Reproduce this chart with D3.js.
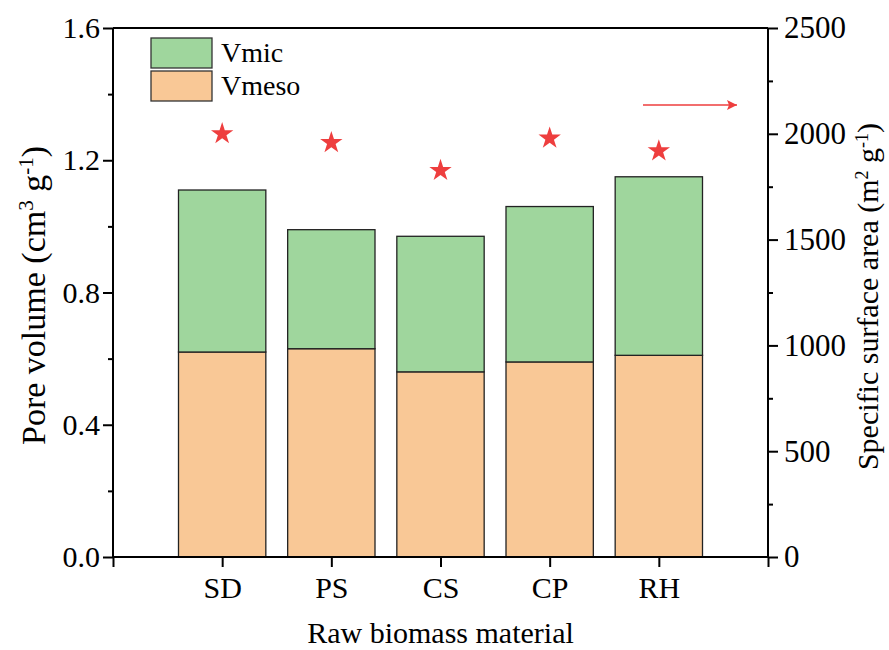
<!DOCTYPE html>
<html>
<head>
<meta charset="utf-8">
<script src="https://cdn.jsdelivr.net/npm/d3@7"></script>
<style>
  body { margin: 0; background: #fff; }
  svg { display: block; }
</style>
</head>
<body>
<svg id="chart" width="889" height="650" style="font-family: 'Liberation Serif', serif;"></svg>
<script>
// ---- data ----
const categories = ["SD", "PS", "CS", "CP", "RH"];
const vmeso = [0.62, 0.63, 0.56, 0.59, 0.61];
const vmic  = [0.49, 0.36, 0.41, 0.47, 0.54];
const ssa   = [2000, 1958, 1826, 1979, 1919];
const leftTicks  = [0.0, 0.4, 0.8, 1.2, 1.6];
const rightTicks = [0, 500, 1000, 1500, 2000, 2500];
const seriesNames = ["Vmic", "Vmeso"];

// ---- layout ----
const W = 889, H = 650;
const m = { left: 113, right: 121, top: 28, bottom: 93 };
const x0 = m.left, x1 = W - m.right, y0 = H - m.bottom, y1 = m.top;
const FONT = "'Liberation Serif', 'Times New Roman', serif";

const svg = d3.select("#chart");

const x = d3.scaleLinear().domain([0, categories.length + 1]).range([x0, x1]);
const yL = d3.scaleLinear().domain([0, 1.6]).range([y0, y1]);
const yR = d3.scaleLinear().domain([0, 2500]).range([y0, y1]);

const colMic = "#9fd69d", colMeso = "#f9c896", colStar = "#ee3e3e";
const barW = 0.8 * (x(1) - x(0));

// bars
const g = svg.append("g");
categories.forEach((c, i) => {
  const cx = x(i + 1);
  g.append("rect")
    .attr("x", cx - barW / 2).attr("width", barW)
    .attr("y", yL(vmeso[i])).attr("height", yL(0) - yL(vmeso[i]))
    .attr("fill", colMeso).attr("stroke", "#222").attr("stroke-width", 1.3);
  g.append("rect")
    .attr("x", cx - barW / 2).attr("width", barW)
    .attr("y", yL(vmeso[i] + vmic[i])).attr("height", yL(vmeso[i]) - yL(vmeso[i] + vmic[i]))
    .attr("fill", colMic).attr("stroke", "#222").attr("stroke-width", 1.3);
});

// stars
const star = d3.symbol().type(d3.symbolStar).size(155);
svg.append("g").selectAll("path").data(ssa).join("path")
  .attr("d", star)
  .attr("transform", (d, i) => `translate(${x(i + 1)},${yR(d)})`)
  .attr("fill", colStar);

// axes
const fs = 30;
const axL = svg.append("g").attr("transform", `translate(${x0},0)`)
  .call(d3.axisLeft(yL).tickValues(leftTicks).tickFormat(d3.format(".1f")).tickSize(10).tickPadding(3));
const axLm = svg.append("g").attr("transform", `translate(${x0},0)`)
  .call(d3.axisLeft(yL).tickValues([0.2, 0.6, 1.0, 1.4]).tickFormat("").tickSize(5));
const axR = svg.append("g").attr("transform", `translate(${x1},0)`)
  .call(d3.axisRight(yR).tickValues(rightTicks).tickFormat(d3.format("d")).tickSize(10).tickPadding(6));
const axRm = svg.append("g").attr("transform", `translate(${x1},0)`)
  .call(d3.axisRight(yR).tickValues([250, 750, 1250, 1750, 2250]).tickFormat("").tickSize(5));
const axB = svg.append("g").attr("transform", `translate(0,${y0})`)
  .call(d3.axisBottom(x).tickValues(d3.range(0, categories.length + 2))
    .tickFormat(d => (d >= 1 && d <= categories.length) ? categories[d - 1] : "")
    .tickSize(10).tickPadding(10));
// top frame
svg.append("line").attr("x1", x0).attr("x2", x1).attr("y1", y1).attr("y2", y1)
  .attr("stroke", "#000").attr("stroke-width", 2);

[axL, axLm, axR, axRm, axB].forEach(a => {
  a.attr("font-family", FONT).attr("font-size", fs);
  a.selectAll("path.domain").attr("stroke", "#000").attr("stroke-width", 2);
  a.selectAll(".tick line").attr("stroke", "#000").attr("stroke-width", 2);
  a.selectAll("text").attr("fill", "#000");
});
axR.attr("font-size", 31);
axLm.select("path.domain").remove();
axRm.select("path.domain").remove();
axL.select("path.domain").attr("d", `M0,${y0}V${y1}`);
axR.select("path.domain").attr("d", `M0,${y0}V${y1}`);
axB.select("path.domain").attr("d", `M${x0},0H${x1}`);

// axis titles
function title(sel, parts, supSize) {
  parts.forEach(p => {
    const t = sel.append("tspan").text(p[0]);
    if (p[1]) t.attr("baseline-shift", "super").attr("font-size", supSize);
  });
}
const tL = svg.append("text")
  .attr("transform", `translate(45,${(y0 + y1) / 2 + 3}) rotate(-90)`)
  .attr("text-anchor", "middle").attr("font-family", FONT).attr("font-size", 34);
title(tL, [["Pore volume (cm"], ["3", 1], [" g"], ["-1", 1], [")"]], 21);

const tR = svg.append("text")
  .attr("transform", `translate(878,${(y0 + y1) / 2 + 4}) rotate(-90)`)
  .attr("text-anchor", "middle").attr("font-family", FONT).attr("font-size", fs);
title(tR, [["Specific surface area (m"], ["2", 1], [" g"], ["-1", 1], [")"]], 18);

svg.append("text").attr("x", (x0 + x1) / 2).attr("y", 643)
  .attr("text-anchor", "middle").attr("font-family", FONT).attr("font-size", fs)
  .text("Raw biomass material");

// legend
const lg = svg.append("g");
[colMic, colMeso].forEach((c, i) => {
  lg.append("rect").attr("x", 151).attr("y", 38 + i * 33).attr("width", 61).attr("height", 30)
    .attr("fill", c).attr("stroke", "#333").attr("stroke-width", 1.3);
  lg.append("text").attr("x", 221).attr("y", 62 + i * 33)
    .attr("font-family", FONT).attr("font-size", 28).text(seriesNames[i]);
});

// arrow
svg.append("defs").append("marker").attr("id", "ah")
  .attr("viewBox", "0 0 10 10").attr("refX", 10).attr("refY", 5)
  .attr("markerWidth", 18).attr("markerHeight", 10).attr("markerUnits", "userSpaceOnUse")
  .attr("orient", "auto")
  .append("path").attr("d", "M0,0L10,5L0,10L2,5Z").attr("fill", colStar);
svg.append("line").attr("x1", 643).attr("x2", 737).attr("y1", 105).attr("y2", 105)
  .attr("stroke", colStar).attr("stroke-width", 1.6).attr("marker-end", "url(#ah)");
</script>
</body>
</html>
